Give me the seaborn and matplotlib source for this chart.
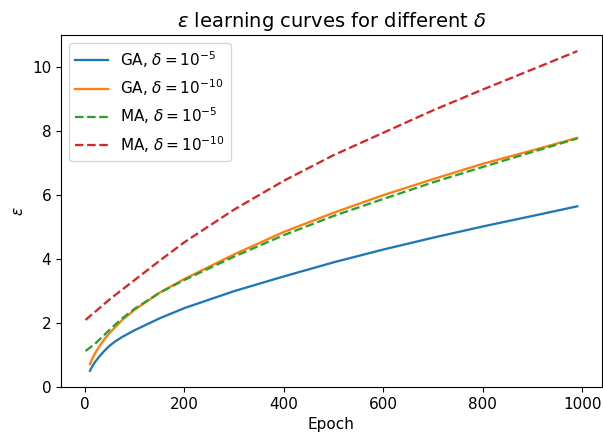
import matplotlib
matplotlib.use("Agg")
import matplotlib.pyplot as plt
import seaborn as sns

# epochs for the two algorithms (MA curves start a bit earlier)
ga_epochs = [10, 15, 20, 30, 40, 50, 60, 75, 100, 150, 200, 300, 400, 500, 600, 700, 800, 900, 990]
ma_epochs = [1, 20, 50, 75, 100, 150, 200, 300, 400, 500, 600, 700, 800, 900, 990]

ga_1e5 = [0.51, 0.66, 0.78, 0.98, 1.15, 1.3, 1.42, 1.57, 1.78, 2.15, 2.47, 3.0, 3.46, 3.9,
          4.3, 4.67, 5.02, 5.35, 5.65]
ga_1e10 = [0.72, 0.9, 1.05, 1.3, 1.52, 1.7, 1.86, 2.1, 2.42, 2.95, 3.38, 4.15, 4.85, 5.45,
           6.0, 6.5, 6.98, 7.4, 7.79]
ma_1e5 = [1.13, 1.35, 1.8, 2.15, 2.45, 2.95, 3.35, 4.08, 4.75, 5.35, 5.88, 6.4, 6.88, 7.35, 7.77]
ma_1e10 = [2.1, 2.35, 2.75, 3.05, 3.35, 3.95, 4.53, 5.55, 6.45, 7.25, 7.95, 8.65, 9.3, 9.93, 10.5]

plt.rcParams["font.size"] = 11

series = [
    (ga_epochs, ga_1e5, r"GA, $\delta=10^{-5}$", "#1f77b4", "-"),
    (ga_epochs, ga_1e10, r"GA, $\delta=10^{-10}$", "#ff7f0e", "-"),
    (ma_epochs, ma_1e5, r"MA, $\delta=10^{-5}$", "#2ca02c", "--"),
    (ma_epochs, ma_1e10, r"MA, $\delta=10^{-10}$", "#d62728", "--"),
]

fig, ax = plt.subplots(figsize=(6.03, 4.34), dpi=100)
for xs, vals, label, color, ls in series:
    sns.lineplot(x=xs, y=vals, ax=ax, label=label, color=color,
                 linestyle=ls, linewidth=1.65)

ax.set_ylim(bottom=0)
ax.set_xticks([0, 200, 400, 600, 800, 1000])
ax.set_yticks([0, 2, 4, 6, 8, 10])
ax.set_xlabel("Epoch")
ax.set_ylabel(r"$\epsilon$")
ax.set_title(r"$\epsilon$ learning curves for different $\delta$", fontsize=14)
ax.legend(loc="upper left", handlelength=2.2)

fig.subplots_adjust(left=0.101, right=0.998, top=0.919, bottom=0.108)
fig.savefig("out.png", dpi=100)
